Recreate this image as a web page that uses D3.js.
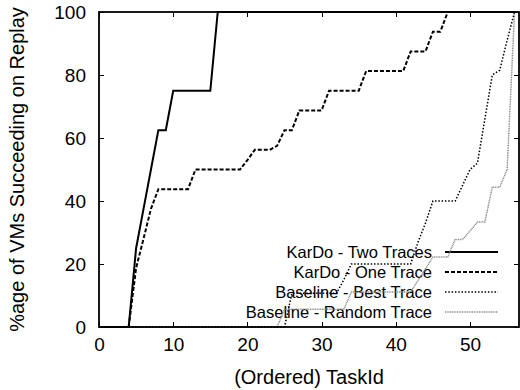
<!DOCTYPE html>
<html lang="en">
<meta charset="utf-8">
<head>
  <style>
    body { margin: 0; background: #fff; }
    text { font-family: "Liberation Sans", Arial, sans-serif; fill: #000; }
    .axis path { display: none; }
    .axis line { stroke: #000; stroke-width: 1; shape-rendering: crispEdges; }
    .axis text { font-size: 19px; }
  </style>
  <title></title>
</head>
<body>
<script src="https://cdnjs.cloudflare.com/ajax/libs/d3/7.8.5/d3.min.js"></script>
<script>

  // task ids 0..56
  const taskIds = d3.range(0, 57);

  const twoTraces = [
    0, 0, 0, 0, 0, 25, 37.5, 50, 62.5, 62.5,
    75, 75, 75, 75, 75, 75, 100, 100, 100, 100,
    100, 100, 100, 100, 100, 100, 100, 100, 100, 100,
    100, 100, 100, 100, 100, 100, 100, 100, 100, 100,
    100, 100, 100, 100, 100, 100, 100, 100, 100, 100,
    100, 100, 100, 100, 100, 100, 100];

  const oneTrace = [
    0, 0, 0, 0, 0, 18.75, 28, 37.5, 43.75, 43.75,
    43.75, 43.75, 43.75, 50, 50, 50, 50, 50, 50, 50,
    53, 56.25, 56.25, 56.25, 57.5, 62.5, 62.5, 68.75, 68.75, 68.75,
    68.75, 75, 75, 75, 75, 75, 81.25, 81.25, 81.25, 81.25,
    81.25, 81.25, 87.5, 87.5, 87.5, 93.75, 93.75, 100, 100, 100,
    100, 100, 100, 100, 100, 100, 100];

  const bestTrace = [
    0, 0, 0, 0, 0, 0, 0, 0, 0, 0,
    0, 0, 0, 0, 0, 0, 0, 0, 0, 0,
    0, 0, 0, 0, 0, 0, 10.7, 10.7, 10.7, 10.7,
    10.7, 10.7, 10.7, 15, 20, 20, 20, 20, 20, 20,
    20, 20, 20, 27, 33, 40, 40, 40, 40, 45,
    50, 52, 66, 80, 81.5, 91, 100];

  const randomTrace = [
    0, 0, 0, 0, 0, 0, 0, 0, 0, 0,
    0, 0, 0, 0, 0, 0, 0, 0, 0, 0,
    0, 0, 0, 0, 0, 5.6, 5.6, 5.6, 5.6, 5.6,
    5.6, 5.6, 5.6, 5.6, 11.1, 11.1, 11.1, 11.1, 11.1, 11.1,
    11.1, 11.1, 11.1, 14.8, 18.5, 22.2, 22.2, 22.2, 27.8, 27.8,
    30.5, 33.3, 33.3, 44.4, 44.4, 50, 100];

  const seriesNames = ["KarDo - Two Traces", "KarDo - One Trace", "Baseline - Best Trace", "Baseline - Random Trace"];
  const seriesValues = [twoTraces, oneTrace, bestTrace, randomTrace];

  const xTicks = [0, 10, 20, 30, 40, 50];
  const yTicks = [0, 20, 40, 60, 80, 100];

  const styles = [
    {stroke: "#000", width: 2, dash: null},
    {stroke: "#000", width: 2, dash: "4,2"},
    {stroke: "#000", width: 1.5, dash: "1.5,1.8"},
    {stroke: "#8a8a8a", width: 1.5, dash: "1,0.7"}
  ];

  const margin = {top: 12, right: 1, bottom: 63, left: 99},
        width = 520 - margin.left - margin.right,
        height = 390 - margin.top - margin.bottom;

  const x = d3.scaleLinear().domain([0, 56.6]).range([0, width]);
  const y = d3.scaleLinear().domain([0, 100]).range([height, 0]);

  const svg = d3.select("body").append("svg")
      .attr("width", 520)
      .attr("height", 390)
      .append("g")
      .attr("transform", "translate(" + margin.left + "," + margin.top + ")");

  // axes with inward ticks, mirrored on top and right
  svg.append("g")
      .attr("class", "axis")
      .attr("transform", "translate(0," + height + ")")
      .call(d3.axisBottom(x).tickValues(xTicks).tickSize(-5).tickPadding(11));

  svg.append("g")
      .attr("class", "axis")
      .call(d3.axisTop(x).tickValues(xTicks).tickSize(-5).tickFormat(""));

  svg.append("g")
      .attr("class", "axis")
      .call(d3.axisLeft(y).tickValues(yTicks).tickSize(-5).tickPadding(13));

  svg.append("g")
      .attr("class", "axis")
      .attr("transform", "translate(" + width + ",0)")
      .call(d3.axisRight(y).tickValues(yTicks).tickSize(-5).tickFormat(""));

  // legend
  const legend = svg.append("g")
      .attr("transform", "translate(" + (432 - margin.left) + "," + (252 - margin.top) + ")");

  seriesNames.forEach(function (name, i) {
    legend.append("text")
        .attr("x", 0)
        .attr("y", i * 20)
        .attr("dy", "0.35em")
        .style("text-anchor", "end")
        .style("font-size", "16.5px")
        .text(name);
    legend.append("line")
        .attr("x1", 13)
        .attr("x2", 66)
        .attr("y1", i * 20)
        .attr("y2", i * 20)
        .style("stroke", styles[i].stroke)
        .style("stroke-width", styles[i].width)
        .style("stroke-dasharray", styles[i].dash);
  });

  const line = d3.line()
      .x(function (d, i) { return x(taskIds[i]); })
      .y(function (d) { return y(d); });

  // draw the fainter ones first
  [3, 2, 1, 0].forEach(function (i) {
    svg.append("path")
        .datum(seriesValues[i])
        .attr("d", line)
        .style("fill", "none")
        .style("stroke", styles[i].stroke)
        .style("stroke-width", styles[i].width)
        .style("stroke-dasharray", styles[i].dash)
        .style("stroke-linejoin", "miter");
  });

  // border
  svg.append("rect")
      .attr("width", width)
      .attr("height", height)
      .style("fill", "none")
      .style("stroke", "#000")
      .style("stroke-width", 1.8);

  svg.append("text")
      .attr("x", width / 2)
      .attr("y", height + 57)
      .style("text-anchor", "middle")
      .style("font-size", "20px")
      .text("(Ordered) TaskId");

  svg.append("text")
      .attr("transform", "rotate(-90)")
      .attr("x", -height / 2)
      .attr("y", -75)
      .style("text-anchor", "middle")
      .style("font-size", "20px")
      .text("%age of VMs Succeeding on Replay");

</script>
</body>
</html>
